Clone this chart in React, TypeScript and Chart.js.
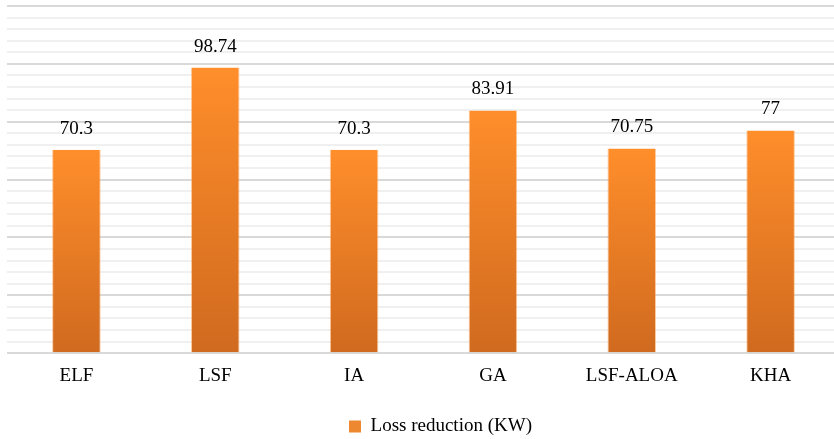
import React, { useEffect, useRef } from "react";
import { Chart, registerables } from "chart.js";

Chart.register(...registerables);

const categories = ["ELF", "LSF", "IA", "GA", "LSF-ALOA", "KHA"];
const lossReduction = [70.3, 98.74, 70.3, 83.91, 70.75, 77];
const valueLabels = ["70.3", "98.74", "70.3", "83.91", "70.75", "77"];
const seriesName = "Loss reduction (KW)";

const FONT = "'Liberation Serif', 'Times New Roman', serif";

export default function App() {
  const ref = useRef<HTMLCanvasElement | null>(null);

  useEffect(() => {
    const canvas = ref.current;
    if (!canvas) return;

    const valueLabelPlugin = {
      id: "valueLabels",
      afterDatasetsDraw(chart: any) {
        const ctx = chart.ctx;
        const meta = chart.getDatasetMeta(0);
        ctx.save();
        ctx.font = `19px ${FONT}`;
        ctx.fillStyle = "#000";
        ctx.textAlign = "center";
        ctx.textBaseline = "alphabetic";
        meta.data.forEach((bar: any, i: number) => {
          ctx.fillText(valueLabels[i], bar.x, bar.y - 16);
        });
        ctx.restore();
      },
    };

    const legendShift = {
      id: "legendShift",
      afterLayout(chart: any) {
        const lg = chart.legend;
        if (lg) {
          lg.left += 17;
          lg.right += 17;
          lg.top += 9;
          lg.bottom += 9;
        }
      },
    };

    const chart = new Chart(canvas, {
      type: "bar",
      data: {
        labels: categories,
        datasets: [
          {
            label: seriesName,
            data: lossReduction,
            backgroundColor: (c: any) => {
              const ch = c.chart;
              const area = ch.chartArea;
              if (!area || c.type !== "data") return "#F28A2E";
              const y = ch.scales.y;
              const top = y.getPixelForValue(c.raw);
              const bottom = y.getPixelForValue(0);
              const g = ch.ctx.createLinearGradient(0, top, 0, bottom);
              g.addColorStop(0, "#FF8E2B");
              g.addColorStop(1, "#D06A1F");
              return g;
            },
            borderColor: "rgba(255,160,80,0.55)",
            borderWidth: { left: 1, right: 1, top: 0, bottom: 0 },
            barPercentage: 0.35,
            categoryPercentage: 1,
          },
        ],
      },
      options: {
        responsive: false,
        animation: false,
        events: [],
        layout: { padding: { left: 7, right: 0, top: 6, bottom: 2 } },
        scales: {
          x: {
            grid: { display: false, drawTicks: false },
            border: { display: false },
            ticks: { color: "#000", font: { family: FONT, size: 19 }, padding: 11 },
          },
          y: {
            min: 0,
            max: 120,
            ticks: { display: false, stepSize: 4 },
            border: { display: false },
            grid: {
              drawTicks: false,
              lineWidth: 2,
              color: (c: any) =>
                c.tick && c.tick.value % 20 === 0 ? "#D9D9D9" : "#F0F0F0",
            },
          },
        },
        plugins: {
          tooltip: { enabled: false },
          legend: {
            position: "bottom",
            labels: {
              color: "#000",
              font: { family: FONT, size: 19 },
              boxWidth: 12,
              boxHeight: 12,
              padding: 10,
              generateLabels: (ch: any) =>
                (Chart.defaults.plugins.legend.labels as any)
                  .generateLabels(ch)
                  .map((l: any) => ({
                    ...l,
                    fillStyle: "#EE8830",
                    strokeStyle: "#EE8830",
                    lineWidth: 0,
                  })),
            },
          },
        },
      },
      plugins: [valueLabelPlugin, legendShift],
    } as any);

    return () => chart.destroy();
  }, []);

  return (
    <div
      style={{
        position: "fixed",
        left: 0,
        top: 0,
        width: 834,
        height: 439,
        overflow: "hidden",
        background: "#fff",
      }}
    >
      <canvas ref={ref} width={840} height={439} style={{ display: "block" }} />
    </div>
  );
}
